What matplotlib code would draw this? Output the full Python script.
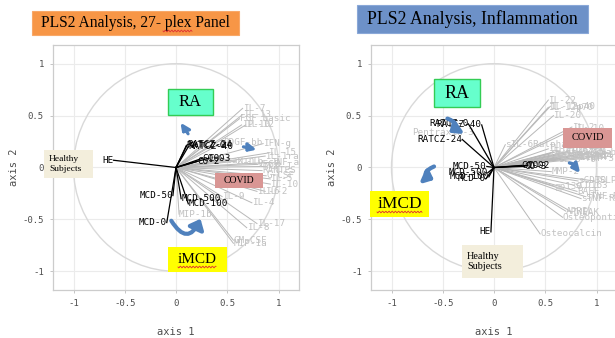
import numpy as np
import matplotlib.pyplot as plt
from matplotlib.patches import Rectangle, FancyArrowPatch, Circle
from matplotlib.lines import Line2D

W, H = 615, 338

# ---- 27-plex panel: response variables (black) and cytokines (grey)
plex_resp = ["HE", "RATCZ-0", "RATCZ-24", "RATCZ-40", "CO-0", "CO-3", "CO-2",
             "MCD-50", "MCD-500", "MCD-100", "MCD-0"]
plex_resp_x = [-0.61, 0.10, 0.11, 0.12, 0.26, 0.32, 0.21, -0.03, 0.05, 0.12, -0.09]
plex_resp_y = [0.07, 0.21, 0.22, 0.20, 0.09, 0.09, 0.06, -0.27, -0.30, -0.35, -0.53]

plex_cyt = ["IL-7", "IL-13", "FGF basic", "IP-10", "IL-12", "PDGF-bb", "IFN-g",
            "Eotaxin", "IL-15", "IL-1ra", "IL-1b", "VEGF", "MCP-1", "TNF-a",
            "RANTES", "G-CSF", "IL-5", "IL-10", "IL-6", "IL-2", "IL-9", "IL-4",
            "IL-17", "IL-8", "GM-CSF", "MIP-1a", "MIP-1b"]
plex_cyt_x = [0.65, 0.65, 0.62, 0.64, 0.68, 0.46, 0.85, 0.38, 0.90, 0.87, 0.58,
              0.80, 0.86, 0.93, 0.84, 0.88, 0.92, 0.92, 0.79, 0.87, 0.45, 0.74,
              0.79, 0.69, 0.56, 0.56, 0.03]
plex_cyt_y = [0.57, 0.51, 0.47, 0.41, 0.41, 0.24, 0.23, 0.07, 0.14, 0.11, 0.06,
              0.03, 0.01, 0.05, -0.03, -0.08, -0.11, -0.16, -0.23, -0.23, -0.28,
              -0.34, -0.54, -0.58, -0.70, -0.73, -0.45]

# ---- Inflammation panel
infl_resp = ["RATCZ-0", "RATCZ-40", "RATCZ-24", "MCD-50", "MCD-500", "MCD-100",
             "MCD-0", "HE", "CO-0", "CO-2", "CO-3"]
infl_resp_x = [-0.25, -0.12, -0.31, -0.07, -0.06, -0.05, -0.08, -0.03, 0.27, 0.33, 0.30]
infl_resp_y = [0.42, 0.41, 0.27, 0.01, -0.05, -0.09, -0.11, -0.62, 0.02, 0.02, 0.01]

infl_cyt = ["IL-22", "IL-12p70", "IL-12p40", "IL-20", "IL-2", "IL-10", "sIL-6Ralpha",
            "Pentraxin-3", "IL-11", "IL-19", "IL-26", "IL-27", "IL-28A", "IL-29",
            "IL-32", "IL-34", "IL-35", "IFN-a2", "IFN-b", "IFN-g", "LIGHT",
            "Chitinase-3", "MMP-1", "MMP-3", "IL-8", "MMP-2", "sCD30", "TSLP",
            "gp130", "sCD163", "BAFF", "sTNF-R1", "sTNF-R2", "APRIL", "TWEAK",
            "Osteopontin", "Osteocalcin"]
infl_cyt_x = [0.53, 0.53, 0.55, 0.58, 0.76, 0.80, 0.11, -0.20, 0.53, 0.58, 0.64,
              0.70, 0.74, 0.82, 0.60, 0.88, 0.66, 0.78, 0.92, 0.72, 0.84, 0.55,
              0.96, 0.90, 0.62, 0.56, 0.82, 0.98, 0.59, 0.78, 0.81, 0.89, 0.85,
              0.70, 0.76, 0.67, 0.45]
infl_cyt_y = [0.65, 0.58, 0.59, 0.50, 0.39, 0.38, 0.22, 0.34, 0.18, 0.15, 0.16,
              0.14, 0.16, 0.15, 0.12, 0.12, 0.11, 0.12, 0.14, 0.10, 0.10, 0.13,
              0.11, 0.09, 0.08, -0.04, -0.13, -0.13, -0.18, -0.17, -0.23, -0.28,
              -0.30, -0.42, -0.43, -0.48, -0.64]

ticks = [-1, -0.5, 0, 0.5, 1]
tick_labels = ["-1", "-0.5", "0", "0.5", "1"]

mono = "DejaVu Sans Mono"
serif = "Liberation Serif"

fig = plt.figure(figsize=(W / 100, H / 100), dpi=100)
ax1 = fig.add_axes([53 / W, (H - 290) / H, 246 / W, 245 / H])
ax2 = fig.add_axes([371 / W, (H - 290) / H, 246 / W, 245 / H])


def draw_panel(ax, resp, rx, ry, cyt, cx, cy):
    ax.set_xlim(-1.2, 1.2)
    ax.set_ylim(-1.18, 1.18)
    ax.set_xticks(ticks)
    ax.set_xticklabels(tick_labels)
    ax.set_yticks(ticks)
    ax.set_yticklabels(tick_labels)
    ax.grid(color="#EBEBEB", lw=0.8)
    ax.set_axisbelow(True)
    for s in ax.spines.values():
        s.set_color("#CCCCCC")
        s.set_linewidth(0.9)
    ax.tick_params(color="#BBBBBB", labelcolor="#4D4D4D", length=2.5, width=0.6,
                   labelsize=6.5, pad=4)
    for lab in ax.get_xticklabels() + ax.get_yticklabels():
        lab.set_family(mono)
    ax.set_xlabel("axis 1", family=mono, fontsize=7.5, color="#4D4D4D", labelpad=14)
    ax.set_ylabel("axis 2", family=mono, fontsize=7.5, color="#4D4D4D", labelpad=2.5)
    ax.add_patch(Circle((0, 0), 1, fill=False, ec="#D9D9D9", lw=1))
    for lab, x, y in zip(cyt, cx, cy):
        ax.plot([0, x], [0, y], color="#B8B8B8", lw=0.7, zorder=2)
        ax.text(x, y, lab, ha="left" if x >= 0 else "right", va="center",
                family=mono, fontsize=6.7, color="#C2C2C2", zorder=3, clip_on=True)
    for lab, x, y in zip(resp, rx, ry):
        ax.plot([0, x], [0, y], color="black", lw=0.9, zorder=4)
        ax.text(x, y, lab, ha="left" if x >= 0 else "right", va="center",
                family=mono, fontsize=6.7, color="black", zorder=5, clip_on=True)


draw_panel(ax1, plex_resp, plex_resp_x, plex_resp_y, plex_cyt, plex_cyt_x, plex_cyt_y)
draw_panel(ax2, infl_resp, infl_resp_x, infl_resp_y, infl_cyt, infl_cyt_x, infl_cyt_y)


def px_box(x0, y0, x1, y1, fc, text, size, ec=None, lw=0, ha="center"):
    fig.add_artist(Rectangle((x0 / W, 1 - y1 / H), (x1 - x0) / W, (y1 - y0) / H,
                             transform=fig.transFigure, fc=fc,
                             ec=ec if ec else fc, lw=lw, zorder=6))
    if ha == "center":
        tx = (x0 + x1) / 2
    else:
        tx = x0 + 5
    fig.text(tx / W, 1 - (y0 + y1) / 2 / H, text, ha=ha, va="center",
             family=serif, fontsize=size, color="black", zorder=7,
             linespacing=1.25)


def wavy(x0, x1, y):
    # red spell-check squiggle
    xs = np.linspace(x0, x1, 60)
    ys = y + 0.9 * np.sin((xs - x0) / 1.6 * np.pi)
    fig.add_artist(Line2D(xs / W, 1 - ys / H, transform=fig.transFigure,
                          color="#E03030", lw=0.6, zorder=8))


# titles
px_box(32, 11, 239, 35, "#F79646", "PLS2 Analysis, 27- plex Panel", 11.2, ec="#F8A868", lw=0.8)
wavy(163, 192, 31)
px_box(357, 5, 588, 33, "#6D91C8", "PLS2 Analysis, Inflammation", 12.8, ec="#8AA8D8", lw=0.8)

# group labels, left panel
px_box(168, 89, 213, 115, "#66FFCC", "RA", 12, ec="#33CC55", lw=1)
px_box(44, 150, 93, 178, "#F3EEDC", "Healthy\nSubjects", 6.8, ha="left")
px_box(215, 173, 263, 188, "#D99694", "COVID", 7)
px_box(168, 247, 227, 272, "#FFFF00", "iMCD", 11)
wavy(178, 216, 267)

# group labels, right panel
px_box(434, 79, 480, 107, "#66FFCC", "RA", 13, ec="#33CC55", lw=1)
px_box(563, 128, 612, 148, "#D99694", "COVID", 7.5)
px_box(370, 191, 429, 217, "#FFFF00", "iMCD", 12.5)
wavy(377, 422, 212)
px_box(462, 245, 523, 278, "#F3EEDC", "Healthy\nSubjects", 7.4, ha="left")

# blue curved arrows
arrow_color = "#4F81BD"


def curved(ax, a, b, rad, lw=2.6, ms=7):
    ax.add_patch(FancyArrowPatch(a, b, connectionstyle=f"arc3,rad={rad}",
                                 arrowstyle="-|>,head_length=0.7,head_width=0.6",
                                 mutation_scale=ms, color=arrow_color, lw=lw,
                                 zorder=9, clip_on=False))


curved(ax1, (0.13, 0.30), (0.05, 0.30), 1.2, lw=2.2, ms=5)
curved(ax1, (0.63, 0.20), (0.66, 0.13), -1.3, lw=2.2, ms=5)
curved(ax1, (-0.06, -0.49), (0.25, -0.47), 1.0, lw=3, ms=8)
curved(ax2, (-0.48, 0.48), (-0.46, 0.32), -1.1, lw=3, ms=7)
curved(ax2, (-0.56, 0.02), (-0.56, -0.13), 1.3, lw=3, ms=7)
curved(ax2, (0.71, 0.05), (0.71, -0.01), -2.5, lw=2.5, ms=5)

fig.savefig("out.png", dpi=100)
